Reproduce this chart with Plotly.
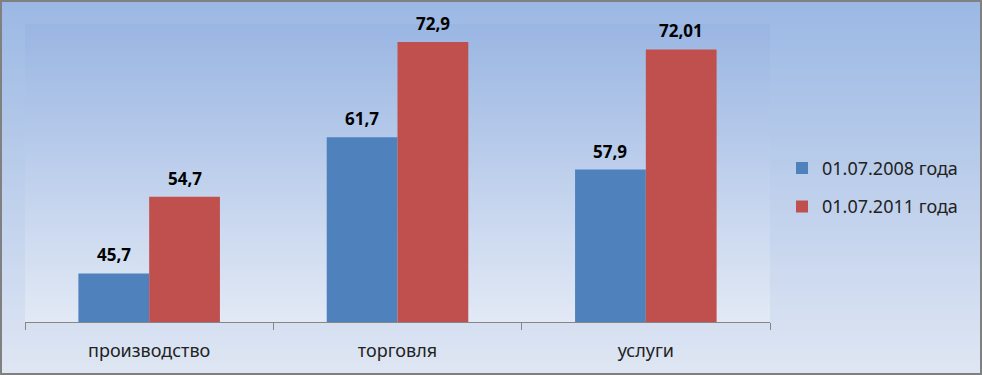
import plotly.graph_objects as go

categories = ["производство", "торговля", "услуги"]
series_2008 = [45.7, 61.7, 57.9]
series_2011 = [54.7, 72.9, 72.01]
series_names = ["01.07.2008 года", "01.07.2011 года"]
series_colors = ["#4F81BD", "#C0504D"]
y_range = [40, 75]

W, H = 982, 375
L, R, T, B = 25, 212, 24, 53
pw, ph = W - L - R, H - T - B
BARGAP = 0.43

def fmt(v):
    return str(v).replace(".", ",")

def lerp(c1, c2, t):
    return tuple(round(a + (b - a) * t) for a, b in zip(c1, c2))

shapes = []
n = 75
top_c, bot_c = (155, 184, 228), (223, 230, 243)
fy0, fy1 = -B / ph, 1 + T / ph
fx0, fx1 = -L / pw, (W - L) / pw
for i in range(n):
    c = lerp(top_c, bot_c, i / (n - 1))
    ya = fy1 - (fy1 - fy0) * i / n
    yb = fy1 - (fy1 - fy0) * (i + 1) / n
    shapes.append(dict(type="rect", xref="paper", yref="paper", x0=fx0, x1=fx1,
                       y0=yb - 0.002, y1=ya, fillcolor="rgb(%d,%d,%d)" % c,
                       line=dict(width=0), layer="below"))
top_p, bot_p = (154, 182, 227), (226, 233, 245)
for i in range(n):
    c = lerp(top_p, bot_p, i / (n - 1))
    ya = 1 - i / n
    yb = 1 - (i + 1) / n
    shapes.append(dict(type="rect", xref="paper", yref="paper", x0=0, x1=1,
                       y0=max(yb - 0.002, 0), y1=ya, fillcolor="rgb(%d,%d,%d)" % c,
                       line=dict(width=0), layer="below"))
shapes.append(dict(type="rect", xref="paper", yref="paper", x0=fx0, x1=fx1, y0=fy0, y1=fy1,
                   line=dict(color="#808080", width=4), fillcolor="rgba(0,0,0,0)", layer="above"))

FONT = "Noto Sans, Liberation Sans, sans-serif"

fig = go.Figure()
for name, vals, col, grp in [(series_names[0], series_2008, series_colors[0], "a"),
                             (series_names[1], series_2011, series_colors[1], "b")]:
    fig.add_trace(go.Bar(x=categories, y=vals, name=name, marker_color=col,
                         marker_line_width=0, legendgroup=grp, hoverinfo="skip"))

# data labels above each bar
cat_w = pw / len(categories)
half = (1 - BARGAP) * cat_w / 4
annotations = []
for vals, sgn in [(series_2008, -1), (series_2011, 1)]:
    for c, v in zip(categories, vals):
        annotations.append(dict(x=c, y=v, xref="x", yref="y", text="<b>" + fmt(v) + "</b>",
                                showarrow=False, xshift=sgn * half, yshift=5, yanchor="bottom",
                                font=dict(family=FONT, size=17, color="black")))

fig.update_layout(
    width=W, height=H,
    margin=dict(l=L, r=R, t=T, b=B),
    paper_bgcolor="rgba(0,0,0,0)", plot_bgcolor="rgba(0,0,0,0)",
    barmode="group", bargap=BARGAP, bargroupgap=0,
    font=dict(family=FONT, size=17, color="black"),
    showlegend=True,
    legend=dict(x=(782 - L) / pw, xanchor="left", y=0.452, yanchor="middle",
                bgcolor="rgba(0,0,0,0)", traceorder="grouped", tracegroupgap=12,
                itemwidth=30, font=dict(family=FONT, size=18, color="#222")),
    xaxis=dict(showline=True, linecolor="#868686", linewidth=1, ticks="outside",
               tickson="boundaries", ticklen=7, tickcolor="#868686", showgrid=False,
               ticklabelstandoff=12, tickfont=dict(family=FONT, size=18, color="#222"),
               fixedrange=True),
    yaxis=dict(range=y_range, visible=False, showgrid=False, fixedrange=True),
    shapes=shapes,
    annotations=annotations,
)

fig.write_html("out.html", config={"displayModeBar": False},
               post_script="document.body.style.margin='0';")
